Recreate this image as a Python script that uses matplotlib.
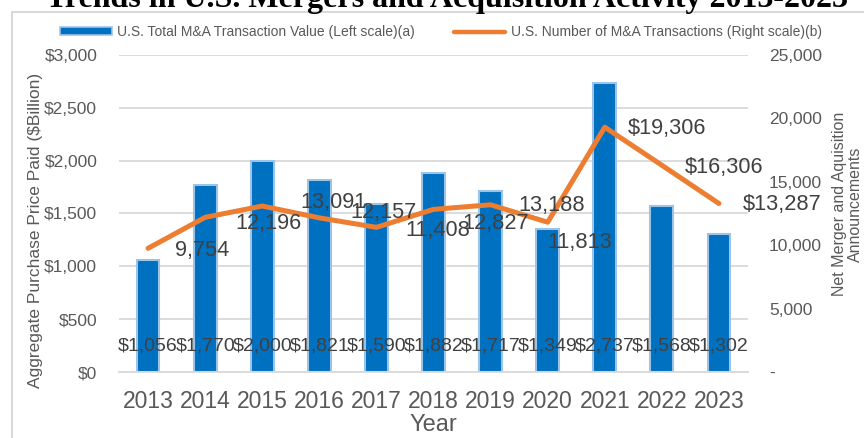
import numpy as np
import matplotlib
matplotlib.use('Agg')
import matplotlib.pyplot as plt
from matplotlib.patches import Patch
from matplotlib.lines import Line2D
from matplotlib.ticker import FuncFormatter

# ── Dane ─────────────────────────────────────────────
years = ['2013', '2014', '2015', '2016', '2017', '2018',
         '2019', '2020', '2021', '2022', '2023']
deal_value = [1056, 1770, 2000, 1821, 1590, 1882, 1717, 1349, 2737, 1568, 1302]
deal_count = [9754, 12196, 13091, 12157, 11408, 12827, 13188, 11813, 19306, 16306, 13287]
count_labels = ['9,754', '12,196', '13,091', '12,157', '11,408', '12,827',
                '13,188', '11,813', '$19,306', '$16,306', '$13,287']
# przesunięcia etykiet linii (px): lewa krawędź tekstu / środek w pionie
label_dx = [27, 30, 38, 31, 29, 29, 28, 0, 23, 23, 24]
label_dy = [-2, -6, 4, 5, -3, -14, -1, -20, -1, -2, -1]

BLUE = '#0070C0'
BLUE_EDGE = '#9DC3E6'
ORANGE = '#ED7D31'
GRID = '#D9D9D9'
TICK = '#595959'
LABEL = '#404040'
W, H = 864, 438

plt.rcParams['font.family'] = ['Liberation Sans', 'DejaVu Sans']

fig = plt.figure(figsize=(W / 100, H / 100), dpi=100)
ax = fig.add_axes([119.5 / W, 1 - 372 / H, (747.5 - 119.5) / W, (372 - 55) / H])
ax2 = ax.twinx()

x = np.arange(len(years))
ax.bar(x, deal_value, width=0.4, color=BLUE, edgecolor=BLUE_EDGE,
       linewidth=1.5, zorder=2)
ax.set_ylim(0, 3000)
ax.set_xlim(-0.5, len(years) - 0.5)
ax.set_yticks(range(0, 3001, 500))
ax.yaxis.set_major_formatter(FuncFormatter(lambda v, p: f'${int(v):,}'))
ax.set_xticks(x)
ax.set_xticklabels(years)
ax.grid(axis='y', color=GRID, linewidth=1.3, zorder=0)
ax.set_axisbelow(True)
ax.tick_params(axis='y', length=0, pad=16, labelsize=12.5, labelcolor=TICK)
ax.tick_params(axis='x', length=0, pad=13, labelsize=16.5, labelcolor=TICK)
for s in ['top', 'left', 'right']:
    ax.spines[s].set_visible(False)
ax.spines['bottom'].set_color(GRID)
ax.spines['bottom'].set_linewidth(1.3)

for i, v in enumerate(deal_value):
    ax.annotate(f'${v:,}', (i, 0), xytext=(0, 26), textcoords='offset pixels',
                ha='center', va='center', fontsize=14, color=LABEL, zorder=5)

ax2.plot(x, deal_count, color=ORANGE, linewidth=3.6, solid_capstyle='round',
         solid_joinstyle='round', zorder=3)
ax2.set_ylim(0, 25000)
ax2.set_yticks(range(0, 25001, 5000))
ax2.yaxis.set_major_formatter(FuncFormatter(lambda v, p: '-' if v == 0 else f'{int(v):,}'))
ax2.tick_params(axis='y', length=0, pad=15.5, labelsize=12.5, labelcolor=TICK)
for s in ['top', 'left', 'right', 'bottom']:
    ax2.spines[s].set_visible(False)

for i, v in enumerate(deal_count):
    ax2.annotate(count_labels[i], (i, v), xytext=(label_dx[i], label_dy[i]),
                 textcoords='offset pixels', ha='left', va='center',
                 fontsize=15.7, color=LABEL, zorder=5)

# etykiety osi
fig.text(446.5 / W, 1 - 7 / H, 'Trends in U.S. Mergers and Acquisition Activity 2013-2023',
         ha='center', va='baseline', fontsize=23, fontweight='bold',
         family=['Liberation Serif', 'DejaVu Serif'], color='black')
fig.text(36 / W, 1 - 230 / H, 'Aggregate Purchase Price Paid ($Billion)',
         rotation=90, ha='center', va='center', fontsize=12.5, color=TICK)
fig.text(847.5 / W, 1 - 204 / H, 'Net Merger and Aquisition\nAnnouncements',
         rotation=90, ha='center', va='center', multialignment='center',
         fontsize=11.5, color=TICK, linespacing=1.1)
fig.text(433 / W, 1 - 425 / H, 'Year', ha='center', va='center',
         fontsize=17, color=TICK)

# ramka wykresu
fig.add_artist(Line2D([12 / W, 12 / W, 1.0], [0.0, 1 - 12 / H, 1 - 12 / H],
                      transform=fig.transFigure, color=GRID, linewidth=1.5))

# legenda
handles = [Patch(facecolor=BLUE, edgecolor=BLUE_EDGE, linewidth=1.2),
           Line2D([0], [0], color=ORANGE, linewidth=3.2, solid_capstyle='round')]
fig.legend(handles,
           ['U.S. Total M&A Transaction Value (Left scale)(a)',
            'U.S. Number of M&A Transactions (Right scale)(b)'],
           loc='center', bbox_to_anchor=(441 / W, 1 - 32 / H), ncol=2,
           frameon=False, fontsize=10, labelcolor=TICK, handlelength=3.7,
           handleheight=0.45, handletextpad=0.4, columnspacing=2.8)

fig.savefig('out.png', dpi=100)
